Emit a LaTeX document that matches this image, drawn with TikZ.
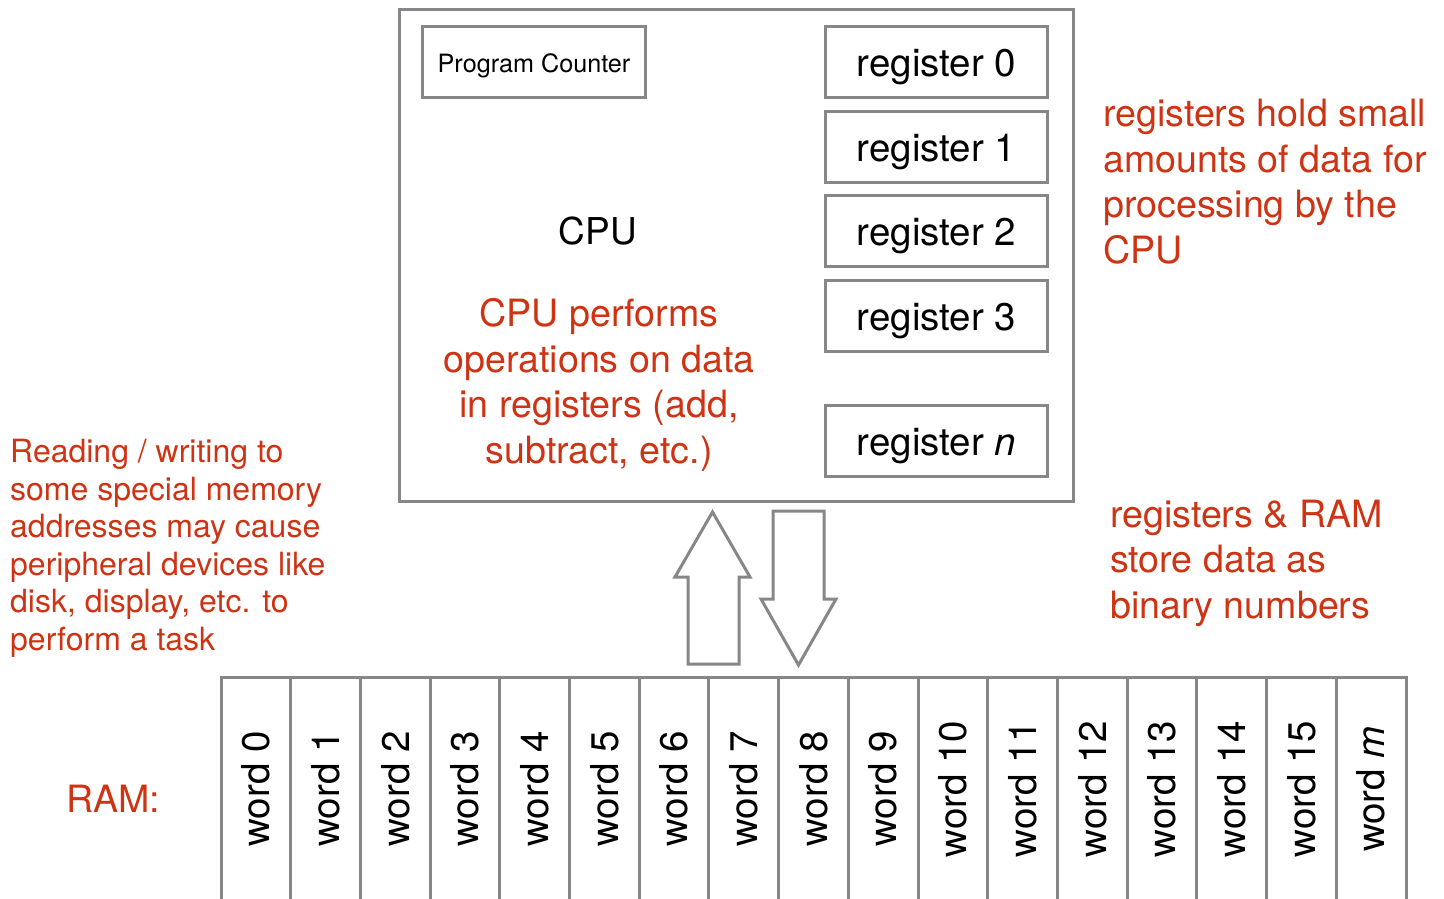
\documentclass[tikz,border=0pt]{standalone}
\usepackage{fontspec}
\setmainfont{TeX Gyre Heros}
\definecolor{boxgray}{RGB}{135,135,138}
\definecolor{notered}{RGB}{206,52,20}
\tikzset{
  graybox/.style={draw=boxgray, line width=3pt, fill=white},
  regbox/.style={graybox, minimum width=222pt, minimum height=71pt, inner sep=0pt, text height=29pt, text depth=0pt, font=\fontsize{38.5}{43}\selectfont},
  note/.style={text=notered, inner sep=0pt, font=\fontsize{37.6}{45.5}\selectfont},
  smallnote/.style={text=notered, inner sep=0pt, font=\fontsize{32}{37.5}\selectfont},
  wordlabel/.style={rotate=90, inner sep=0pt, font=\fontsize{38.5}{43}\selectfont},
  bigarrow/.style={draw=boxgray, line width=3pt, line join=miter, fill=white}
}
\begin{document}
\begin{tikzpicture}[x=1pt, y=-1pt]
\useasboundingbox (0,0) rectangle (1444,898);
% CPU box
\node[graybox, anchor=north west, minimum width=674pt, minimum height=492pt, inner sep=0pt] (cpu) at (398,8) {};
\node[graybox, anchor=north west, minimum width=223pt, minimum height=71pt, inner sep=0pt, text height=20pt, text depth=0pt, font=\fontsize{25.2}{28}\selectfont] (pc) at (421,25) {Program Counter};
\node[regbox, anchor=north west] (r0) at (824,25) {register 0};
\node[regbox, anchor=north west] (r1) at (824,110) {register 1};
\node[regbox, anchor=north west] (r2) at (824,194) {register 2};
\node[regbox, anchor=north west] (r3) at (824,279) {register 3};
\node[regbox, anchor=north west] (rn) at (824,404) {register \textit{n}};
\node[inner sep=0pt, font=\fontsize{37}{43}\selectfont, anchor=base] (cpulabel) at (598,244) {CPU};
\node[note, align=center, anchor=base] (ops) at (599,463) {CPU performs\\operations on data\\in registers (add,\\subtract, etc.)};
% side notes
\node[note, align=left, anchor=base west] (regnote) at (1103,263) {registers hold small\\amounts of data for\\processing by the\\CPU};
\node[note, align=left, anchor=base west] (binnote) at (1110,618) {registers \& RAM\\store data as\\binary numbers};
\node[smallnote, align=left, anchor=base west] (ionote) at (10,650) {Reading / writing to\\some special memory\\addresses may cause\\peripheral devices like\\disk, display, etc. to\\perform a task};
% arrows between CPU and RAM
\draw[bigarrow] (688,664) -- (688,577) -- (675,577) -- (712.5,512) -- (750,577) -- (739,577) -- (739,664) -- cycle;
\draw[bigarrow] (773,511) -- (824,511) -- (824,599) -- (836,599) -- (798.5,665) -- (761,599) -- (773,599) -- cycle;
% RAM
\node[note, anchor=base west] (ramlabel) at (66,812.5) {RAM:};
\begin{scope}
\clip (0,0) rectangle (1444,898);
\draw[draw=boxgray, line width=3pt] (221,905) -- (221,677) -- (1406,677) -- (1406,905);
\foreach \i in {1,...,16} {
  \draw[draw=boxgray, line width=3pt] ({221+\i*69.706},677) -- ({221+\i*69.706},905);
}
\end{scope}
\foreach \i in {0,...,15} {
  \node[wordlabel] (w\i) at ({221+(\i+0.5)*69.706},789) {word \i};
}
\node[wordlabel] (wm) at ({221+16.5*69.706},789) {word \textit{m}};
\end{tikzpicture}
\end{document}
